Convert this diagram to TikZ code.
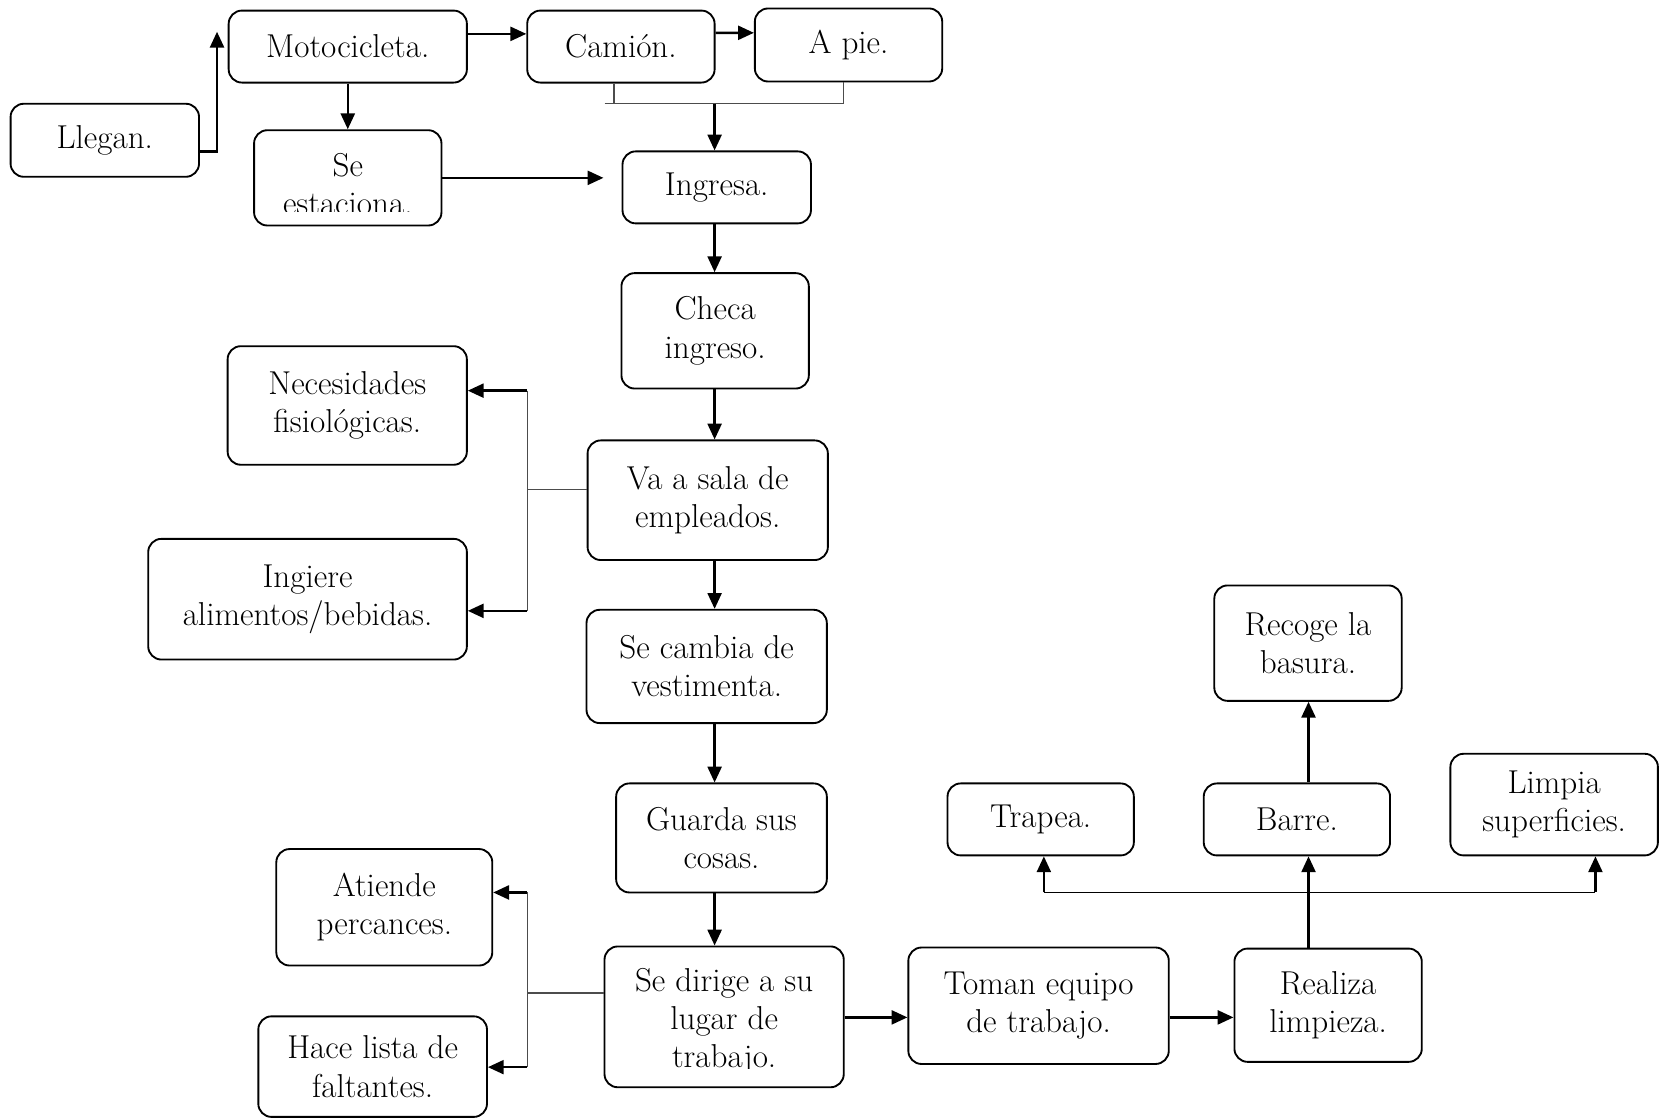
\documentclass[tikz,border=0pt]{standalone}
\usetikzlibrary{arrows.meta}
% one rounded process box: name, centre x, centre y, width, height, text
\newcommand\flowbox[6]{\node[box, minimum width=#4*0.02cm, minimum height=#5*0.02cm] (#1) at (#2,#3) {#6};}
\begin{document}
\begin{tikzpicture}[x=0.02cm,y=-0.02cm,
  box/.style={draw, line width=1pt, rounded corners=0.25cm, inner sep=0pt, align=center,
              font=\fontsize{17.8}{20.5}\selectfont},
  txt/.style={inner sep=0pt, align=center, font=\fontsize{17.8}{20.5}\selectfont},
  arr/.style={line width=1.3pt, -{Triangle[length=8.5pt,width=7.5pt]}},
  thinline/.style={line width=0.6pt, draw=black!70},
  bar/.style={line width=1pt}]
\useasboundingbox (0,0) rectangle (1568,1057);

% arrival
\flowbox{llegan}{99}{132.5}{178}{69}{Llegan.}
\flowbox{moto}{328.5}{44}{225}{68}{Motocicleta.}
\flowbox{camion}{586.5}{44}{177}{68}{Cami\'on.}
\flowbox{apie}{801.5}{42.5}{177}{69}{A pie.}
\flowbox{estac}{328.5}{168}{177}{90}{}
\begin{scope}
  \clip (240,123) rectangle (417,200);
  \node[txt] (estacT) at (328.5,174) {Se\\estaciona.};
\end{scope}
\flowbox{ingresa}{677}{177}{178}{68}{Ingresa.}

% main column
\flowbox{checa}{675.5}{312.5}{177}{109}{Checa\\ingreso.}
\flowbox{sala}{668.5}{472.5}{227}{113}{Va a sala de\\empleados.}
\flowbox{cambia}{667.5}{629.5}{227}{107}{Se cambia de\\vestimenta.}
\flowbox{guarda}{681.5}{791.5}{199}{103}{Guarda sus\\cosas.}
\flowbox{dirige}{684}{960.5}{226}{133}{}
\begin{scope}
  \clip (571,894) rectangle (797,1009);
  \node[txt] (dirigeT) at (684,965) {Se dirige a su\\lugar de\\trabajo.};
\end{scope}

% side branches
\flowbox{necesidades}{328}{383}{226}{112}{Necesidades\\fisiol\'ogicas.}
\flowbox{ingiere}{290.5}{566}{301}{114}{Ingiere\\alimentos/bebidas.}
\flowbox{atiende}{363}{857}{204}{110}{Atiende\\percances.}
\flowbox{hace}{352}{1007.5}{216}{95}{Hace lista de\\faltantes.}

% cleaning
\flowbox{toman}{981}{950}{246}{110}{Toman equipo\\de trabajo.}
\flowbox{realiza}{1254.5}{949.5}{177}{107}{Realiza\\limpieza.}
\flowbox{trapea}{983}{774}{176}{68}{Trapea.}
\flowbox{barre}{1225}{774}{176}{68}{Barre.}
\flowbox{recoge}{1235.5}{607.5}{177}{109}{Recoge la\\basura.}
\flowbox{limpia}{1468}{760}{196}{96}{Limpia\\superficies.}

% guide coordinates
\coordinate (motoTip) at (205,30);
\coordinate (joinL) at (571,98);
\coordinate (joinR) at (797,98);
\coordinate (ingTip) at (570,168);
\coordinate (spine) at (675,0);
\coordinate (b1) at (498,369);
\coordinate (b2) at (498,577);
\coordinate (b3) at (498,843);
\coordinate (b4) at (498,1008);
\coordinate (row) at (0,961);
\coordinate (colB) at (1236,0);
\coordinate (hL) at (986,843);
\coordinate (hR) at (1507,843);

% arrival connectors
\draw[arr] ([yshift=-0.21cm]llegan.east) -| (motoTip);
\draw[arr] ([yshift=0.24cm]moto.east) -- ([yshift=0.24cm]camion.west);
\draw[arr] ([yshift=0.26cm]camion.east) -- ([yshift=0.23cm]apie.west);
\draw[arr] (moto.south) -- (estac.north);
\draw[thinline] (joinL) -- (joinR) -- (apie.south -| joinR);
\draw[thinline] ([xshift=-0.13cm]camion.south) -- ([xshift=-0.13cm]camion.south |- joinL);
\draw[arr] (joinL -| spine) -- (ingresa.north -| spine);
\draw[arr] (estac.east) -- (ingTip);

% main column
\draw[arr] (ingresa.south -| spine) -- (checa.north -| spine);
\draw[arr] (checa.south -| spine) -- (sala.north -| spine);
\draw[arr] (sala.south -| spine) -- (cambia.north -| spine);
\draw[arr] (cambia.south -| spine) -- (guarda.north -| spine);
\draw[arr] (guarda.south -| spine) -- (dirige.north -| spine);

% employee room branch
\draw[thinline] ([yshift=0.21cm]sala.west) -- ([yshift=0.21cm]sala.west -| b1);
\draw[thinline] (b1) -- (b2);
\draw[arr] (b1) -- (necesidades.east |- b1);
\draw[arr] (b2) -- (ingiere.east |- b2);

% workplace branch
\draw[thinline] ([yshift=0.45cm]dirige.west) -- ([yshift=0.45cm]dirige.west -| b3);
\draw[thinline] (b3) -- (b4);
\draw[arr] (b3) -- (atiende.east |- b3);
\draw[arr] (b4) -- (hace.east |- b4);

% cleaning sequence
\draw[arr] (dirige.east |- row) -- (toman.west |- row);
\draw[arr] (toman.east |- row) -- (realiza.west |- row);
\draw[arr] (realiza.north -| colB) -- (barre.south -| colB);
\draw[bar] (hL) -- (hR);
\draw[arr] (hL) -- (hL |- trapea.south);
\draw[arr] (hR) -- (hR |- limpia.south);
\draw[arr] (barre.north -| colB) -- (recoge.south -| colB);
\end{tikzpicture}
\end{document}
